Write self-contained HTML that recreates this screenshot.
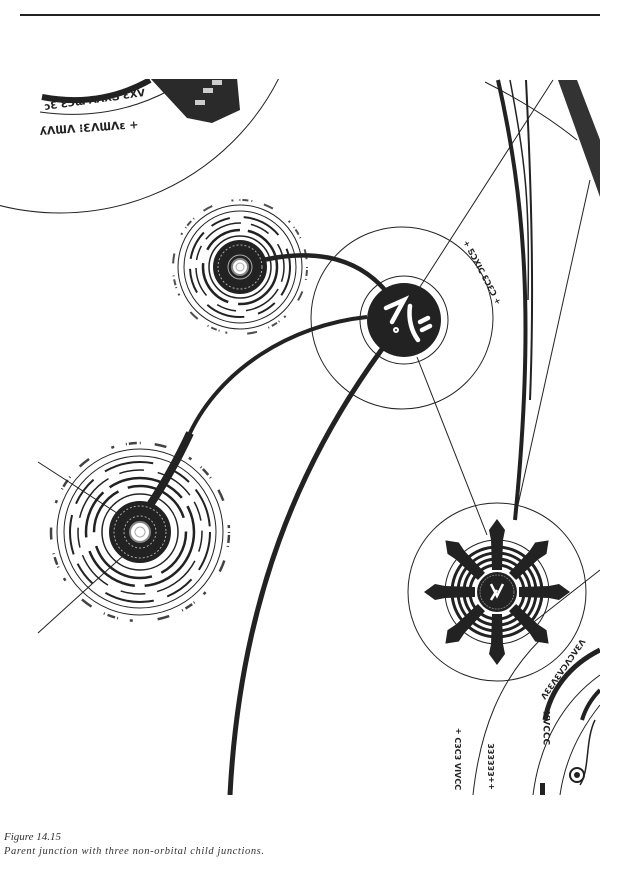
<!DOCTYPE html>
<html><head><meta charset="utf-8"><style>
html,body{margin:0;padding:0;background:#fff;}
svg{display:block}
</style></head><body>
<svg width="622" height="872" viewBox="0 0 622 872" xmlns="http://www.w3.org/2000/svg">
<defs>
<clipPath id="c"><rect x="0" y="79" width="600" height="716"/></clipPath>
</defs>
<rect width="622" height="872" fill="#fff"/>
<line x1="20" y1="15" x2="600" y2="15" stroke="#222" stroke-width="2"/>

<g clip-path="url(#c)" fill="none" stroke="#222">
  <!-- top-left big circle -->
  <circle cx="60" cy="-32" r="245" stroke-width="1"/>
  <path d="M42,97 Q100,108 150,80" stroke-width="6"/>
  <path d="M40,112 Q110,122 170,90" stroke-width="1"/>
  <polygon points="150,78 237,78 240,110 212,123 187,118" fill="#2a2a2a" stroke="none"/>
  <rect x="195" y="100" width="10" height="5" fill="#ccc" stroke="none"/>
  <rect x="203" y="88" width="10" height="5" fill="#ccc" stroke="none"/>
  <rect x="212" y="80" width="10" height="5" fill="#ccc" stroke="none"/>

  <!-- right side lines -->
  <path d="M498,80 C525,200 535,320 515,520" stroke-width="4"/>
  <path d="M510,80 C525,160 530,200 528,300" stroke-width="1.5"/>
  <path d="M526,80 C532,200 534,300 530,400" stroke-width="2"/>
  <line x1="553" y1="80" x2="418" y2="290" stroke-width="1"/>
  <path d="M485,82 Q540,110 577,140" stroke-width="1"/>
  <polygon points="558,80 577,80 602,145 600,197" fill="#333" stroke="none"/>
  <line x1="590" y1="180" x2="518" y2="505" stroke-width="1"/>
  <line x1="417" y1="357" x2="487" y2="535" stroke-width="1"/>

  <!-- parent -->
  <circle cx="402" cy="318" r="91" stroke-width="1"/>
  <circle cx="404" cy="320" r="44" stroke-width="1"/>

  <!-- connectors -->
  <path d="M263,260 C300,252 350,250 385,290" stroke-width="4.5"/>
  <path d="M367,317 C290,325 220,370 190,433 C175,465 160,490 150,505" stroke-width="4"/>
  <path d="M190,433 C175,465 160,490 150,505" stroke-width="8"/>
  <path d="M385,345 C300,460 240,600 230,795" stroke-width="5"/>

  <circle cx="404" cy="320" r="37" fill="#222" stroke="none"/>
  <g stroke="#fff" stroke-width="4.5" stroke-linecap="round" fill="none">
    <path d="M386,308 L404,300 L392,322"/>
    <path d="M410,306 C408,320 412,332 418,340"/>
    <path d="M420,322 L428,318 M422,330 L430,326"/>
    <circle cx="396" cy="330" r="1" stroke-width="4"/>
  </g>

  <!-- child2 lines -->
  <line x1="38" y1="462" x2="120" y2="515" stroke-width="1"/>
  <line x1="38" y1="633" x2="135" y2="545" stroke-width="1"/>

  <!-- child1 -->
  <g transform="translate(240,267)">
    <circle r="62" stroke-width="1"/>
    <circle r="67" stroke-width="2" stroke-dasharray="1 2 6 3 1 12 10 20 2 6" opacity=".8"/>
    <circle r="56" stroke-width="1"/>
    <circle r="50" stroke-width="2" stroke-dasharray="30 10 20 14 40 16 25 10"/>
    <circle r="44" stroke-width="1.5" stroke-dasharray="15 8 40 10 20 14 30 8"/>
    <circle r="37" stroke-width="2.5" stroke-dasharray="60 10 50 14 40 8"/>
    <circle r="31" stroke-width="1.5"/>
    <circle r="21" fill="#222" stroke="#222" stroke-width="12"/>
    <circle r="22" stroke="#aaa" stroke-width="1" stroke-dasharray="2 2"/>
    <circle r="12" stroke="#aaa" stroke-width="1"/>
    <circle r="8" fill="#fff" stroke="#888" stroke-width="2"/>
    <circle r="4" fill="#fff" stroke="#aaa" stroke-width="1"/>
  </g>

  <!-- child2 -->
  <g transform="translate(140,532)">
    <circle r="83" stroke-width="1"/>
    <circle r="89" stroke-width="2.5" stroke-dasharray="1 2 8 3 1 14 12 25 3 12" opacity=".85"/>
    <circle r="76" stroke-width="1"/>
    <circle r="70" stroke-width="2" stroke-dasharray="40 12 30 14 50 16 25 10"/>
    <circle r="62" stroke-width="1.5" stroke-dasharray="20 10 50 12 25 14 40 8"/>
    <circle r="54" stroke-width="2.5" stroke-dasharray="80 10 60 14 50 8"/>
    <circle r="46" stroke-width="2.5" stroke-dasharray="50 10 70 14"/>
    <circle r="38" stroke-width="1.5"/>
    <circle r="24" fill="#222" stroke="#222" stroke-width="14"/>
    <circle r="26" stroke="#aaa" stroke-width="1" stroke-dasharray="2 2"/>
    <circle r="16" stroke="#aaa" stroke-width="1" stroke-dasharray="2 2"/>
    <circle r="10" fill="#fff" stroke="#888" stroke-width="2"/>
    <circle r="5" fill="#fff" stroke="#aaa" stroke-width="1"/>
  </g>

  <!-- child3 -->
  <g transform="translate(497,592)">
    <circle r="89" stroke-width="1"/>
    <circle r="52" stroke-width="1"/>
    <circle r="45" stroke-width="3"/>
    <circle r="39" stroke-width="3"/>
    <circle r="33" stroke-width="3"/>
    <circle r="27" stroke-width="3"/>
    <g fill="#222" stroke="none">
      <polygon id="sp" points="0,-73 8,-62 6,-52 5,-22 -5,-22 -6,-52 -8,-62"/>
      <use href="#sp" transform="rotate(45)"/>
      <use href="#sp" transform="rotate(90)"/>
      <use href="#sp" transform="rotate(135)"/>
      <use href="#sp" transform="rotate(180)"/>
      <use href="#sp" transform="rotate(-45)"/>
      <use href="#sp" transform="rotate(-90)"/>
      <use href="#sp" transform="rotate(-135)"/>
    </g>
    <circle r="20" fill="#222" stroke="none"/>
    <circle r="17" stroke="#888" stroke-width=".8" stroke-dasharray="2 1"/>
    <path d="M-6,-8 L0,4 L6,-8 M-6,8 L0,-2" stroke="#fff" stroke-width="2.5"/>
  </g>
  <line x1="600" y1="570" x2="530" y2="625" stroke-width="1"/>

  <!-- bottom right arcs -->
  <path d="M540,640 C500,680 480,730 473,795" stroke-width="1"/>
  <path d="M600,650 C570,665 550,690 545,720" stroke-width="5"/>
  <path d="M600,675 C565,700 540,740 533,795" stroke-width="1"/>
  <path d="M600,690 C590,700 585,710 582,720" stroke-width="4"/>
  <path d="M600,705 C580,730 565,760 560,795" stroke-width="1"/>
  <path d="M595,720 C585,740 590,770 580,785" stroke-width="1.5"/>
  <circle cx="577" cy="775" r="7" stroke-width="2"/>
  <circle cx="577" cy="775" r="3" fill="#222" stroke="none"/>
  <rect x="540" y="783" width="5" height="12" fill="#222" stroke="none"/>
</g>

<!-- pseudo-script text -->
<g font-family="DejaVu Sans, sans-serif" font-weight="bold" fill="#222" font-size="10">
  <text x="45" y="110" transform="rotate(-8 45 110)">ɔƐ ƐƆƜ ɅɅXƼ ƐXV</text>
  <text x="40" y="135" font-size="11" transform="rotate(-4 40 135)">ʎɅƜɅ ⁝ƐɅƜɅɛ +</text>
  <text x="463" y="242" font-size="8" transform="rotate(62 463 242)">+ ƼƆXIC ƐƆƐƆ +</text>
  <text x="461" y="790" font-size="8" transform="rotate(-90 461 790)">ƆƆΛIΛ ƐƆƐƆ +</text>
  <text x="494" y="790" font-size="8" transform="rotate(-90 494 790)">++ƐƐƐƐƐƐ</text>
  <text x="545" y="700" font-size="8" transform="rotate(-55 545 700)">ɅƐƐɅƐVƆɅƆVƐɅ</text>
  <text x="550" y="745" font-size="9" transform="rotate(-90 550 745)">ƆƆƆɅX</text>
</g>

<g font-family="Liberation Serif, serif" font-style="italic" fill="#333">
  <text x="4" y="840" font-size="11">Figure 14.15</text>
  <text x="4" y="854" font-size="10.5" letter-spacing=".6">Parent junction with three non-orbital child junctions.</text>
</g>
</svg>
</body></html>
